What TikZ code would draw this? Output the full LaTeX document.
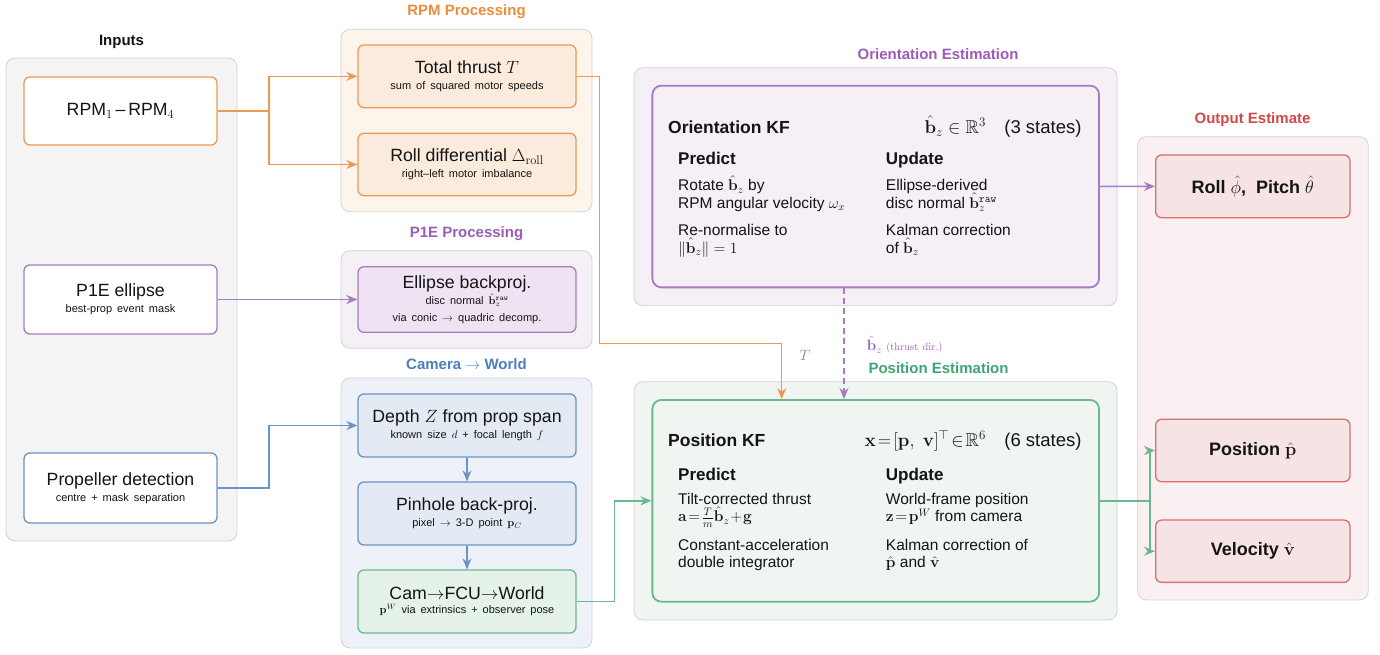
\RequirePackage{fix-cm}
\documentclass[tikz,border=0pt]{standalone}
\usepackage{amsmath,amssymb}
\usepackage[no-math]{fontspec}
\setmainfont{Liberation Sans}
\usetikzlibrary{arrows.meta,calc}
\definecolor{grpline}{HTML}{D2D2D2}
\definecolor{inpfill}{HTML}{F4F4F4}
\definecolor{oline}{HTML}{EB9A55}
\definecolor{ofill}{HTML}{FAEBDD}
\definecolor{ogrp}{HTML}{FDF4EC}
\definecolor{otit}{HTML}{EB8D3F}
\definecolor{pline}{HTML}{A77BC4}
\definecolor{pfill}{HTML}{EFE3F3}
\definecolor{pgrp}{HTML}{F4F0F6}
\definecolor{ptit}{HTML}{9B5DB8}
\definecolor{bline}{HTML}{6A93C6}
\definecolor{bfill}{HTML}{E4EAF3}
\definecolor{bgrp}{HTML}{EEF1F7}
\definecolor{btit}{HTML}{4C7FBE}
\definecolor{gline}{HTML}{6BB88F}
\definecolor{gfill}{HTML}{E4F2EA}
\definecolor{ggrp}{HTML}{F0F5F2}
\definecolor{gtit}{HTML}{3FA672}
\definecolor{rline}{HTML}{D96E6E}
\definecolor{rfill}{HTML}{F6E4E5}
\definecolor{rgrp}{HTML}{FAF0F1}
\definecolor{rtit}{HTML}{D04848}
\definecolor{txt}{HTML}{141414}
\newcommand\mainf{\fontsize{17.7}{16}\selectfont}
\newcommand\subf{\fontsize{11}{16}\selectfont\spaceskip=.45em plus .1em}
\newcommand\titf{\fontsize{15}{17}\selectfont\bfseries}
\newcommand\kfhead{\fontsize{17.5}{19}\selectfont\bfseries}
\newcommand\kfstate{\fontsize{18.5}{19}\selectfont}
\newcommand\kfsub{\fontsize{17}{19}\selectfont\bfseries}
\newcommand\kfbody{\fontsize{15.5}{17}\selectfont}
\newcommand\bz{\hat{\mathbf b}_z}
\tikzset{
  grp/.style={draw=grpline, line width=0.8pt, rounded corners=9pt, fill=#1},
  boxb/.style={line width=1.3pt, rounded corners=6pt, minimum width=218pt,
    align=center, font=\mainf, text=txt, inner sep=0pt},
  obox/.style={boxb, draw=oline, fill=ofill},
  pbox/.style={boxb, draw=pline, fill=pfill},
  bbox/.style={boxb, draw=bline, fill=bfill},
  gbox/.style={boxb, draw=gline, fill=gfill},
  ibox/.style={boxb, draw=#1, fill=white, minimum width=193pt},
  rbox/.style={boxb, draw=rline, fill=rfill, minimum width=194.3pt,
    font=\fontsize{18}{19}\selectfont\bfseries},
  kfbox/.style={draw=#1, line width=1.8pt, rounded corners=9pt,
    minimum width=446.7pt, minimum height=201.7pt, inner sep=0pt},
  gtitle/.style={font=\titf, text=#1},
  tl/.style={anchor=base west, inner sep=0pt, text=txt},
  conn/.style={line width=1.5pt, draw=#1,
    -{Stealth[length=11pt,width=9pt,inset=3.5pt]}},
  plainc/.style={line width=1.5pt, draw=#1},
}
\begin{document}
\begin{tikzpicture}[x=1pt,y=-1pt]
\useasboundingbox[fill=white] (0,0) rectangle (1380,654);

% ---------- groups ----------
\node[grp=inpfill, minimum width=231pt, minimum height=483pt] (ginp) at (121.5,299.5) {};
\node[gtitle=txt] (tinp) at (121.5,42) {Inputs};
\node[grp=ogrp, minimum width=251pt, minimum height=182.4pt] (grpm) at (466.5,120.5) {};
\node[gtitle=otit] (trpm) at (466.5,12) {RPM Processing};
\node[grp=pgrp, minimum width=251pt, minimum height=97.6pt] (gp1e) at (466.5,299.5) {};
\node[gtitle=ptit] (tp1e) at (466.5,234) {P1E Processing};
\node[grp=bgrp, minimum width=251pt, minimum height=270pt] (gcam) at (466.5,513) {};
\node[gtitle=btit] (tcam) at (466.5,364) {Camera $\rightarrow$ World};
\node[grp=pgrp, minimum width=483pt, minimum height=238pt] (gori) at (875.5,186.7) {};
\node[gtitle=ptit] (tori) at (938,54) {Orientation Estimation};
\node[grp=ggrp, minimum width=483pt, minimum height=238.3pt] (gpos) at (875.5,500.8) {};
\node[gtitle=gtit] (tpos) at (938.5,368) {Position Estimation};
\node[grp=rgrp, minimum width=230.6pt, minimum height=463.3pt] (gout) at (1253,368.3) {};
\node[gtitle=rtit] (tout) at (1252.5,120) {Output Estimate};

% ---------- inputs ----------
\node[ibox=oline, minimum height=68pt] (rpm) at (120.5,111) {RPM$_1$\,--\,RPM$_4$};
\node[ibox=pline, minimum height=69pt] (p1e) at (120.5,299.5)
  {P1E ellipse\\[0pt]{\subf best-prop event mask}};
\node[ibox=bline, minimum height=70pt] (prop) at (120.5,488)
  {Propeller detection\\[0pt]{\subf centre + mask separation}};

% ---------- processing ----------
\node[obox, minimum height=62.7pt] (thrust) at (467,76.3)
  {Total thrust $T$\\[0pt]{\subf sum of squared motor speeds}};
\node[obox, minimum height=62.4pt] (rolld) at (467,164.5)
  {Roll differential $\Delta_{\mathrm{roll}}$\\[0pt]{\subf right--left motor imbalance}};
\node[pbox, minimum height=65.6pt] (ellip) at (467,299.5)
  {Ellipse backproj.\\[0pt]{\subf disc normal $\bz^{\mathtt{raw}}$}\\[1pt]{\subf via conic $\rightarrow$ quadric decomp.}};
\node[bbox, minimum height=63pt] (depth) at (467,425.5)
  {Depth $Z$ from prop span\\[0pt]{\subf known size $d$ + focal length $f$}};
\node[bbox, minimum height=63pt] (pinhole) at (467,513.5)
  {Pinhole back-proj.\\[0pt]{\subf pixel $\rightarrow$ 3-D point $\mathbf p_C$}};
\node[gbox, minimum height=63pt] (camw) at (467,601.5)
  {Cam$\rightarrow$FCU$\rightarrow$World\\[-2pt]{\subf $\mathbf p^W$ via extrinsics + observer pose}};

% ---------- orientation KF ----------
\node[kfbox=pline, fill=pgrp] (okf) at (875.7,186.5) {};
\node[tl, font=\kfhead] (okft) at (668,133.3) {Orientation KF};
\node[anchor=base east, inner sep=0pt, text=txt, font=\kfstate] (okfs) at (1081.7,133.3)
  {$\bz\in\mathbb{R}^3$\quad(3 states)};
\node[tl, font=\kfsub] (oP) at (678,164) {Predict};
\node[tl, font=\kfsub] (oU) at (885.7,164) {Update};
\node[tl, font=\kfbody] (o1) at (678,190.7) {Rotate $\bz$ by};
\node[tl, font=\kfbody] (o2) at (678,208) {RPM angular velocity $\omega_x$};
\node[tl, font=\kfbody] (o3) at (678,235.7) {Re-normalise to};
\node[tl, font=\kfbody] (o4) at (678,253) {$\|\bz\|=1$};
\node[tl, font=\kfbody] (o5) at (885.7,190.7) {Ellipse-derived};
\node[tl, font=\kfbody] (o6) at (885.7,208) {disc normal $\bz^{\mathtt{raw}}$};
\node[tl, font=\kfbody] (o7) at (885.7,235.7) {Kalman correction};
\node[tl, font=\kfbody] (o8) at (885.7,253) {of $\bz$};

% ---------- position KF ----------
\node[kfbox=gline, fill=ggrp] (pkf) at (875.7,500.8) {};
\node[tl, font=\kfhead] (pkft) at (668,446.7) {Position KF};
\node[anchor=base east, inner sep=0pt, text=txt, font=\kfstate] (pkfs) at (1081.7,446.7)
  {$\mathbf x\!=\![\mathbf p,\ \mathbf v]^{\top}\!\in\!\mathbb{R}^6$\quad(6 states)};
\node[tl, font=\kfsub] (pP) at (678,480) {Predict};
\node[tl, font=\kfsub] (pU) at (885.7,480) {Update};
\node[tl, font=\kfbody] (p1) at (678,504) {Tilt-corrected thrust};
\node[tl, font=\kfbody] (p2) at (678,521.7) {$\mathbf a\!=\!\frac{T}{m}\bz\!+\!\mathbf g$};
\node[tl, font=\kfbody] (p3) at (678,550) {Constant-acceleration};
\node[tl, font=\kfbody] (p4) at (678,567.3) {double integrator};
\node[tl, font=\kfbody] (p5) at (885.7,504) {World-frame position};
\node[tl, font=\kfbody] (p6) at (885.7,521.7) {$\mathbf z\!=\!\mathbf p^W$ from camera};
\node[tl, font=\kfbody] (p7) at (885.7,550) {Kalman correction of};
\node[tl, font=\kfbody] (p8) at (885.7,567.3) {$\hat{\mathbf p}$ and $\hat{\mathbf v}$};

% ---------- outputs ----------
\node[rbox, minimum height=62.7pt] (roll) at (1252.8,186.3) {Roll $\hat\phi$,\ \ Pitch $\hat\theta$};
\node[rbox, minimum height=62.4pt] (posn) at (1252.8,450.5) {Position $\hat{\mathbf p}$};
\node[rbox, minimum height=62.3pt] (velo) at (1252.8,551.2) {Velocity $\hat{\mathbf v}$};

% ---------- connectors ----------
\coordinate (jr) at (268.8,111);
\draw[plainc=oline] (rpm.east) -- (jr);
\draw[conn=oline] (jr) |- (thrust.west);
\draw[conn=oline] (jr) |- (rolld.west);
\draw[conn=pline] (p1e.east) -- (ellip.west);
\draw[conn=bline] (prop.east) -- (269,488) |- (depth.west);
\draw[conn=bline] (depth) -- (pinhole);
\draw[conn=bline] (pinhole) -- (camw);
\draw[conn=oline] (thrust.east) -- (599.6,76.3) -- (599.6,343.3)
  -| ([xshift=-94pt]pkf.north);
\draw[conn=pline, dashed, dash pattern=on 6pt off 4pt]
  ([xshift=-31.7pt]okf.south) -- ([xshift=-31.7pt]pkf.north);
\draw[conn=gline] (camw.east) -- (614.6,601.5) |- (pkf.west);
\draw[conn=pline] (okf.east) -- (roll.west);
\coordinate (jg) at (1150,500.8);
\draw[plainc=gline] (pkf.east) -- (jg);
\draw[conn=gline] (jg) |- (posn.west);
\draw[conn=gline] (jg) |- (velo.west);

\node[text=black!45, font=\fontsize{15}{16}\selectfont] (lt) at (805,355) {$T$};
\node[anchor=west, inner sep=0pt, text=ptit, font=\fontsize{15}{16}\selectfont] (lb) at (866.7,345)
  {$\bz\ \scriptstyle\mathrm{(thrust\ dir.)}$};
\end{tikzpicture}
\end{document}
